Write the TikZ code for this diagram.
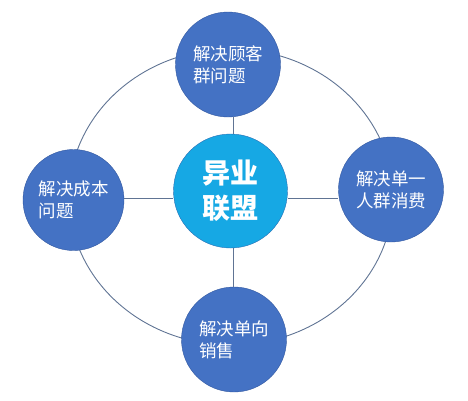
\documentclass[tikz,border=0pt]{standalone}
\usepackage{fontspec}
\setmainfont{Noto Sans CJK SC}
\usepackage{tikz}

\definecolor{sideblue}{RGB}{68,114,196}
\definecolor{sideedge}{RGB}{50,88,160}
\definecolor{hubblue}{RGB}{22,168,228}
\definecolor{hubedge}{RGB}{40,110,180}
\definecolor{ringgray}{RGB}{96,116,148}

\begin{document}
\begin{tikzpicture}[x=1pt, y=-1pt,
    side/.style = {draw=sideedge, fill=sideblue, circle, minimum size=105pt, inner sep=0pt, text=white, align=left, font=\fontsize{17.5pt}{22pt}\selectfont},
    hub/.style = {draw=hubedge, fill=hubblue, circle, minimum size=114pt, inner sep=0pt, text=white, align=center, font=\fontsize{28pt}{35pt}\selectfont\bfseries},
    ring/.style = {draw=ringgray, line width=0.9pt}]
    \useasboundingbox (0,0) rectangle (468,400);
    \draw[ring] (231,197) ellipse [x radius=162, y radius=148];
    \node[hub] (hub) at (230.5,191) {异业\\联盟};
    \node[side] (top) at (228,64.5) {解决顾客\\群问题};
    \node[side, minimum size=101pt] (left) at (73.5,200) {解决成本\\问题};
    \node[side] (right) at (391,189.5) {解决单一\\人群消费};
    \node[side] (bottom) at (234,339.5) {解决单向\\销售};
    \coordinate (cross) at (233,198);
    \draw[ring] (top.south -| cross) -- (hub.north -| cross);
    \draw[ring] (hub.south -| cross) -- (bottom.north -| cross);
    \draw[ring] (left.east |- cross) -- (hub.west |- cross);
    \draw[ring] (hub.east |- cross) -- (right.west |- cross);
\end{tikzpicture}
\end{document}
